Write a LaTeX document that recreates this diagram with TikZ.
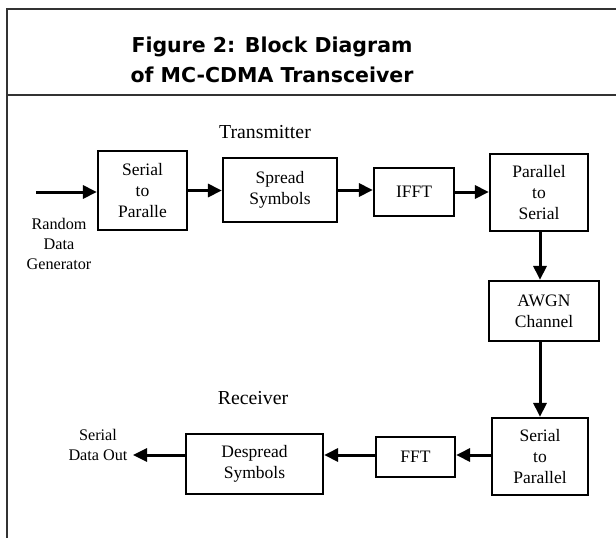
\documentclass[tikz,border=0pt]{standalone}
\usepackage{fontspec}
\setmainfont{Liberation Serif}
\newfontfamily\titlefont{DejaVu Sans}
\usetikzlibrary{arrows.meta}
\begin{document}
\begin{tikzpicture}[x=1pt,y=-1pt,
  block/.style={draw, line width=2.2pt, align=center, inner sep=0pt,
    font=\fontsize{17.5}{21.3}\selectfont},
  flow/.style={line width=3pt, -{Triangle[length=14pt,width=13pt]}},
  lbl/.style={align=center, inner sep=0pt, font=\fontsize{19.8}{22}\selectfont},
  side/.style={align=center, inner sep=0pt, font=\fontsize{16.2}{20.3}\selectfont},
  frameline/.style={draw=black!80, line width=2pt},
  heading/.style={align=center, inner sep=0pt,
    font=\titlefont\bfseries\fontsize{20.5}{30}\selectfont}]
\useasboundingbox (0,0) rectangle (616,538);

% frame and title bar
\draw[frameline] (616,9) -- (6.5,9) -- (6.5,538);
\draw[frameline] (6.5,95) -- (616,95);
\node[heading] (title) at (272,60) {Figure 2: Block Diagram\\of MC-CDMA Transceiver};

% section labels
\node[lbl] (txlabel) at (265,132) {Transmitter};
\node[lbl] (rxlabel) at (253,398) {Receiver};

% transmitter chain
\node[block, minimum width=89pt, minimum height=79pt] (s2p) at (142.5,190.5) {Serial\\to\\Paralle};
\node[block, minimum width=114pt, minimum height=64pt] (spread) at (280,190) {Spread\\Symbols};
\node[block, minimum width=80pt, minimum height=48pt] (ifft) at (414,192) {IFFT};
\node[block, minimum width=98pt, minimum height=77pt] (p2s) at (539,192.5) {Parallel\\to\\Serial};

% channel
\node[block, minimum width=110pt, minimum height=60pt] (awgn) at (544,311) {AWGN\\Channel};

% receiver chain
\node[block, minimum width=96pt, minimum height=77pt] (rs2p) at (540,456.5) {Serial\\to\\Parallel};
\node[block, minimum width=79pt, minimum height=40pt] (fft) at (415.5,457) {FFT};
\node[block, minimum width=137pt, minimum height=60pt] (despread) at (254.5,464) {Despread\\Symbols};

% source and sink
\node[side] (src) at (59,244) {Random\\Data\\Generator};
\node[side] (sink) at (98,445) {Serial\\Data Out};
\coordinate (in) at (36,192);
\coordinate (out) at (133,455);

% connectors
\draw[flow] (in) -- (s2p.west |- in);
\draw[flow] (s2p.east) -- (spread.west |- s2p.east);
\draw[flow] (spread.east) -- (ifft.west |- spread.east);
\draw[flow] (ifft.east) -- (p2s.west |- ifft.east);
\draw[flow] (p2s.south -| 540,0) -- (awgn.north -| 540,0);
\draw[flow] (awgn.south -| 540,0) -- (rs2p.north -| 540,0);
\draw[flow] (rs2p.west |- 0,455) -- (fft.east |- 0,455);
\draw[flow] (fft.west |- 0,455) -- (despread.east |- 0,455);
\draw[flow] (despread.west |- 0,455) -- (out);
\end{tikzpicture}
\end{document}
